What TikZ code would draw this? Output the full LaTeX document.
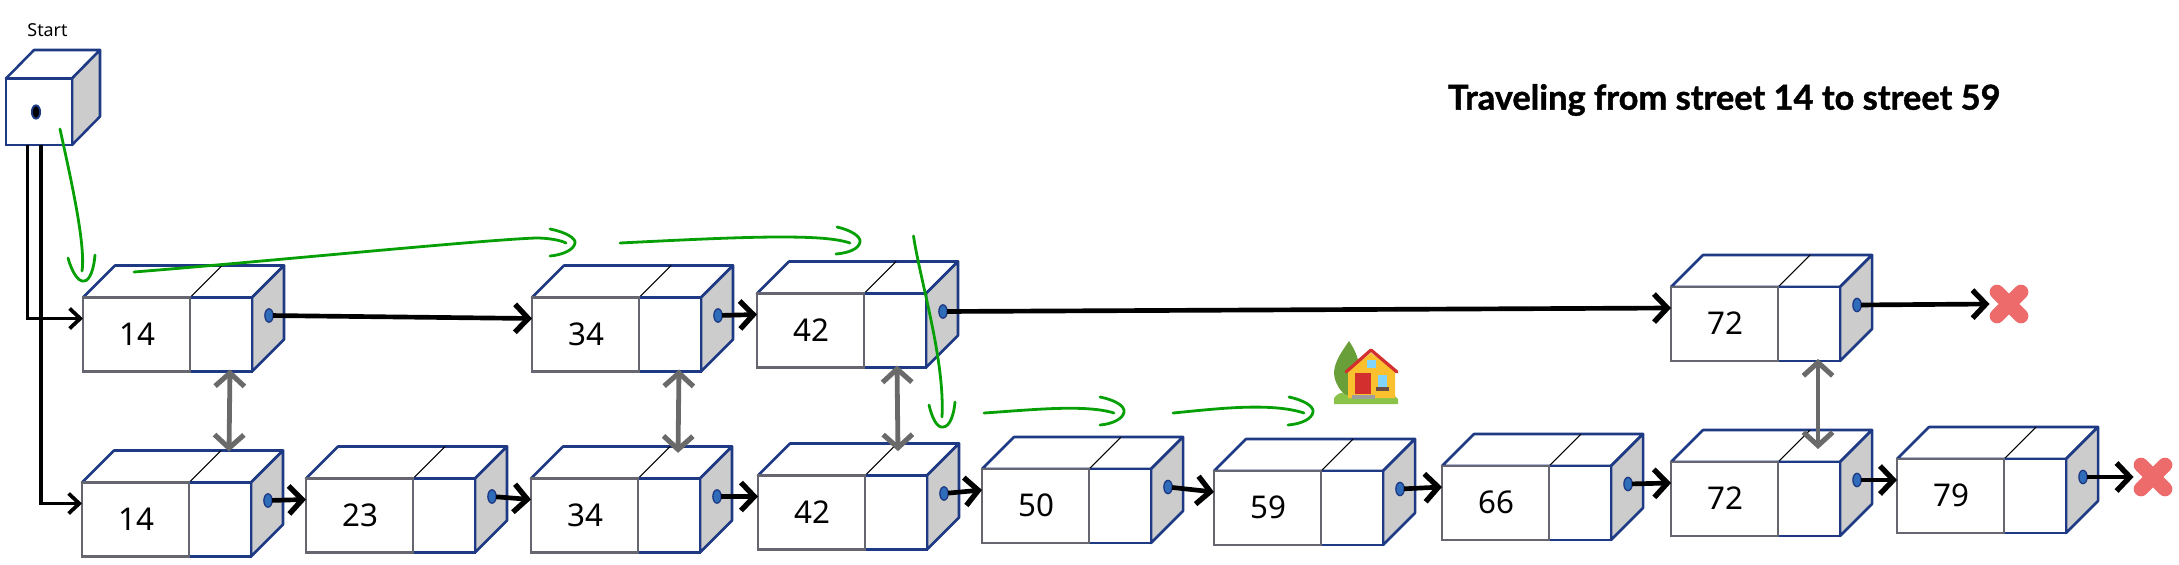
\documentclass[tikz,border=0pt]{standalone}
\usepackage{fontspec}
\setmainfont{Noto Sans}
\newfontfamily\titlefont[BoldFeatures={FakeBold=1.2}]{Lato}
\usetikzlibrary{arrows.meta,shapes.geometric,shapes.misc}

\definecolor{cellblue}{HTML}{1F3A85}
\definecolor{cellgray}{HTML}{666670}
\definecolor{sidegray}{HTML}{CCCCCC}
\definecolor{dotblue}{HTML}{2F6DBB}
\definecolor{trailgreen}{HTML}{06A006}
\definecolor{linkgray}{HTML}{6A6A6A}
\definecolor{stopred}{HTML}{EE6B6B}
\definecolor{treegreen}{HTML}{689F38}
\definecolor{bushgreen}{HTML}{8BC34A}
\definecolor{wallyellow}{HTML}{FBC02D}
\definecolor{roofred}{HTML}{D32F2F}
\definecolor{glassblue}{HTML}{81D4FA}
\definecolor{sillbrown}{HTML}{6D4C41}
\definecolor{stepgray}{HTML}{9E9E9E}

\tikzset{every picture/.style={line width=0.75pt}}
\tikzset{
	cellface/.style={draw=cellblue,line width=1.9pt,fill=white,line join=round},
	cellside/.style={draw=cellblue,line width=1.9pt,fill=sidegray,line join=round},
	cellslash/.style={draw=black,line width=0.8pt},
	valcell/.style={draw=cellgray,line width=2.2pt,fill=white,anchor=north west,inner sep=0pt,outer sep=0pt,
		minimum width=80.25pt,minimum height=55.5pt,font=\fontsize{23.5pt}{26pt}\selectfont},
	ptrcell/.style={draw=cellblue,line width=1.9pt,fill=white,anchor=north west,inner sep=0pt,outer sep=0pt,
		minimum width=46.5pt,minimum height=55.5pt},
	ptrdot/.style={ellipse,draw=cellblue,line width=1pt,fill=dotblue,inner sep=0pt,outer sep=0pt,
		minimum width=6.2pt,minimum height=10pt},
	nextarrow/.style={draw=black,line width=3.5pt,-{Straight Barb[length=10pt,width=21pt,line width=4pt]}},
	startarrow/.style={draw=black,line width=2.6pt,-{Straight Barb[length=8pt,width=15pt,line width=2.8pt]}},
	linkarrow/.style={draw=linkgray,line width=3.6pt,{Straight Barb[length=10pt,width=22pt,line width=3.8pt]}-{Straight Barb[length=10pt,width=22pt,line width=3.8pt]}},
	trail/.style={draw=trailgreen,line width=2.1pt,line cap=round},
	stopmark/.style={cross out,draw=stopred,line width=11pt,line cap=round,inner sep=0pt,outer sep=0pt,minimum size=18pt},
}

% name, left, top, value
\newcommand{\listcell}[4]{
	\draw[cellface] (#2,#3) -- ++(32,-32) -- ++(169,0) -- ++(-32,32) -- cycle;
	\draw[cellside] (#2+169,#3) -- ++(32,-32) -- ++(0,74) -- ++(-32,32) -- cycle;
	\draw[cellslash] (#2+107,#3) -- ++(32,-32);
	\node[ptrcell] (#1-p) at (#2+107,#3) {};
	\node[valcell] (#1) at (#2,#3) {\kern2pt\raisebox{0.8pt}{#4}};
	\node[ptrdot] (#1-d) at (#2+186,#3+18) {};
	\coordinate (#1-in) at (#2,#3+21);
	\coordinate (#1-low) at (#2+147,#3+72);
	\coordinate (#1-high) at (#2+147,#3-31);
}

\begin{document}
\begin{tikzpicture}[x=0.75pt,y=0.75pt,yscale=-1,xscale=1]
	\useasboundingbox (0,0) rectangle (2179,564);

	%Start box
	\draw[cellface] (6,78.5) -- ++(28,-28.5) -- ++(66,0) -- ++(-28,28.5) -- cycle;
	\draw[cellside] (72,78.5) -- ++(28,-28.5) -- ++(0,66.5) -- ++(-28,28.5) -- cycle;
	\node[draw=cellblue,line width=1.9pt,fill=white,anchor=north west,inner sep=0pt,outer sep=0pt,minimum width=49.5pt,minimum height=50pt] (start) at (6,78.5) {};
	\node[ptrdot,draw=cellblue,fill=black,line width=1.4pt] (start-d) at (36,112) {};
	\coordinate (start-a) at (27.5,145);
	\coordinate (start-b) at (41,145);

	% Text Node
	\node[font=\fontsize{13.4pt}{16pt}\selectfont] (start-t) at (47.5,30) {Start};
	% Text Node
	\node[font=\titlefont\bfseries\fontsize{25.8pt}{30pt}\selectfont,anchor=west] (title) at (1443,100) {Traveling from street 14 to street 59};

	%Cells
	\listcell{t14}{83}{297.5}{14}
	\listcell{t34}{532}{297.5}{34}
	\listcell{t42}{757}{293.5}{42}
	\listcell{t72}{1671}{287}{72}
	\listcell{b14}{82}{482.5}{14}
	\listcell{b23}{306}{478.5}{23}
	\listcell{b34}{531}{478.5}{34}
	\listcell{b42}{758}{475.5}{42}
	\listcell{b50}{982}{469}{50}
	\listcell{b59}{1214}{471}{59}
	\listcell{b66}{1442}{466}{66}
	\listcell{b72}{1671}{462}{72}
	\listcell{b79}{1897}{459}{79}

	%Stop marks
	\node[stopmark] (stop-a) at (2009,304) {};
	\node[stopmark] (stop-b) at (2153,477) {};

	%Straight Lines
	\draw[startarrow] (start-a) |- (t14-in);
	\draw[startarrow] (start-b) |- (b14-in);
	\draw[nextarrow] (t14-d) -- (t34-in);
	\draw[nextarrow] (t34-d) -- (t42-in);
	\draw[nextarrow] (t42-d) -- (t72-in);
	\draw[nextarrow] (t72-d) -- ([xshift=-5.6pt]stop-a.west);
	\draw[nextarrow] (b14-d) -- (b23-in);
	\draw[nextarrow] (b23-d) -- (b34-in);
	\draw[nextarrow] (b34-d) -- (b42-in);
	\draw[nextarrow] (b42-d) -- (b50-in);
	\draw[nextarrow] (b50-d) -- (b59-in);
	\draw[nextarrow] (b59-d) -- (b66-in);
	\draw[nextarrow] (b66-d) -- (b72-in);
	\draw[nextarrow] (b72-d) -- (b79-in);
	\draw[nextarrow] (b79-d) -- ([xshift=-5.6pt]stop-b.west);

	%Level links
	\draw[linkarrow] (t14-low) -- (b14-high);
	\draw[linkarrow] (t34-low) -- ([yshift=4pt]b34-high);
	\draw[linkarrow] ([xshift=-5.25pt]t42-low) -- ([xshift=-5.25pt,yshift=5pt]b42-high);
	\draw[linkarrow] (t72-low) -- ([yshift=13.5pt]b72-high);

	%Curve Lines
	\draw[trail] (60,129) .. controls (70,175) and (86,245) .. (82,271);
	\draw[trail] (68,258) .. controls (72,272) and (78,282) .. (84,281) .. controls (90,281) and (94,268) .. (95,255);
	%Curve Lines
	\draw[trail] (134,272) .. controls (260,262) and (480,240) .. (536,238) .. controls (548,238) and (560,240) .. (566,243);
	\draw[trail] (550,229) .. controls (565,232) and (576,238) .. (575,243) .. controls (574,250) and (562,255) .. (550,256);
	%Curve Lines
	\draw[trail] (620,243) .. controls (680,240) and (740,237) .. (780,237) .. controls (810,237) and (835,238) .. (850,243);
	\draw[trail] (837,227) .. controls (850,230) and (861,236) .. (860,242) .. controls (859,249) and (848,253) .. (836,254);
	%Curve Lines
	\draw[trail] (913.5,236) .. controls (920,280) and (945,360) .. (942,417);
	\draw[trail] (929,405) .. controls (932,418) and (937,428) .. (943,427) .. controls (950,427) and (954,414) .. (955,402);
	%Curve Lines
	\draw[trail] (984,413) .. controls (1030,410) and (1085,404) .. (1114,413);
	\draw[trail] (1100,397) .. controls (1115,400) and (1125,406) .. (1124,412) .. controls (1123,419) and (1112,424) .. (1100,425);
	%Curve Lines
	\draw[trail] (1173,413) .. controls (1215,409) and (1270,402) .. (1304,413);
	\draw[trail] (1289,397) .. controls (1303,400) and (1314,406) .. (1313,412) .. controls (1312,419) and (1301,424) .. (1288,425);

	%House
	\fill[treegreen] (1349,341) .. controls (1355,350) and (1360,360) .. (1359,372) .. controls (1358,385) and (1352,393) .. (1349,398) .. controls (1340,392) and (1334,382) .. (1334,372) .. controls (1335,360) and (1343,350) .. (1349,341) -- cycle;
	\fill[bushgreen] (1334,404) -- (1334,398) .. controls (1338,393) and (1342,391) .. (1346,395) -- (1372,398) -- (1378,398) .. controls (1382,392) and (1392,392) .. (1398,399) -- (1398,404) -- cycle;
	\fill[wallyellow] (1348,370) -- (1371,353) -- (1395,370) -- (1395,398) -- (1348,398) -- cycle;
	\draw[roofred,line width=2.4pt,line cap=round,line join=round] (1346,372) -- (1371,350) -- (1397,372);
	\fill[roofred] (1355,373) rectangle (1371,394);
	\fill[glassblue] (1367,360) rectangle (1376,368);
	\fill[glassblue] (1378,375) rectangle (1387,387);
	\fill[sillbrown] (1376,387) rectangle (1389,391);
	\fill[stepgray] (1352,395) rectangle (1375,399);
	\end{tikzpicture}
\end{document}
